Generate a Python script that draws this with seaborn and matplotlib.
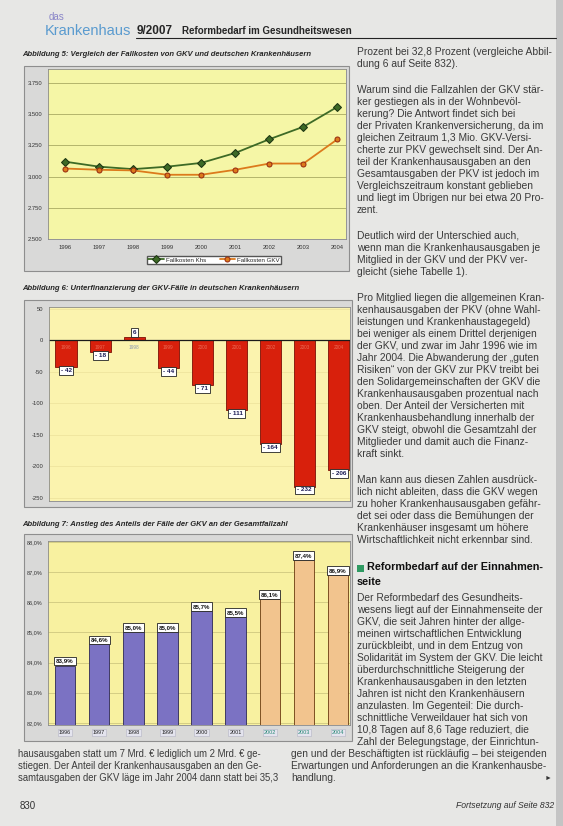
import numpy as np
import pandas as pd
import matplotlib
matplotlib.use("Agg")
import matplotlib.pyplot as plt
import seaborn as sns
from matplotlib import font_manager as fm
from matplotlib.patches import Rectangle
from matplotlib.lines import Line2D

# values
years = ["1996", "1997", "1998", "1999", "2000", "2001", "2002", "2003", "2004"]
fallkosten_khs = [3120, 3080, 3060, 3080, 3110, 3190, 3300, 3400, 3560]
fallkosten_gkv = [3065, 3055, 3050, 3015, 3015, 3055, 3105, 3105, 3300]
unterfinanzierung = [-42, -18, 6, -44, -71, -111, -164, -232, -206]
anteil_gkv = [83.9, 84.6, 85.0, 85.0, 85.7, 85.5, 86.1, 87.4, 86.9]
ticks_kosten = [2500, 2750, 3000, 3250, 3500, 3750]
ticks_unterfin = [50, 0, -50, -100, -150, -200, -250]
ticks_anteil = [82, 83, 84, 85, 86, 87, 88]

W, H = 563, 826

sns.set_theme(style="white")
plt.rcParams["font.family"] = ["Liberation Sans", "DejaVu Sans"]
names = {f.name for f in fm.fontManager.ttflist}
NARROW = "Liberation Sans Narrow" if "Liberation Sans Narrow" in names else None
head_fam = [NARROW, "Liberation Sans", "DejaVu Sans"] if NARROW else ["Liberation Sans", "DejaVu Sans"]
head_scale = 1.2 if NARROW else 1.0

fig = plt.figure(figsize=(W / 100, H / 100), dpi=100, facecolor="#e7e7e5")


def ax_at(x0, y0, x1, y1):
    ax = fig.add_axes([x0 / W, 1 - y1 / H, (x1 - x0) / W, (y1 - y0) / H])
    ax.set_zorder(2)
    return ax


def frame(x0, y0, x1, y1, fc="#d9d9d8", ec="#8e8e8e"):
    fig.patches.append(Rectangle((x0 / W, 1 - y1 / H), (x1 - x0) / W, (y1 - y0) / H,
                                 transform=fig.transFigure, fc=fc, ec=ec, lw=0.8, zorder=-5))


def put(x, y, s, **kw):
    kw.setdefault("va", "center")
    return fig.text(x / W, 1 - y / H, s, **kw)


def hline(x0, x1, y, **kw):
    fig.add_artist(Line2D([x0 / W, x1 / W], [1 - y / H, 1 - y / H], transform=fig.transFigure, **kw))


def de(v, nd=0):
    s = f"{v:,.{nd}f}"
    return s.replace(",", "X").replace(".", ",").replace("X", ".")


# page edge
frame(556, 0, 563, 826, fc="#c4c4c4", ec="none")

# ---- header ----
put(49, 17, "das", fontsize=7, color="#8a86c8")
put(45, 31, "Krankenhaus", fontsize=10.5, color="#5a9bcf")
put(137, 31, "9/2007", fontsize=8.5 * head_scale, fontweight="bold", family=head_fam)
put(182, 31, "Reformbedarf im Gesundheitswesen", fontsize=7 * head_scale, fontweight="bold", family=head_fam)
hline(136, 556, 38, color="#222", lw=0.8)

title_kw = dict(fontsize=5.5 * head_scale, fontweight="bold", style="italic", family=head_fam)

# ---- Abbildung 5 ----
put(22, 54, "Abbildung 5: Vergleich der Fallkosten von GKV und deutschen Krankenhäusern", **title_kw)
frame(24, 66, 349, 271)
ax1 = ax_at(48, 69, 346, 239)
ax1.set_facecolor("#f5f6a6")
df1 = pd.DataFrame({
    "pos": list(range(len(years))) * 2,
    "wert": fallkosten_khs + fallkosten_gkv,
    "reihe": ["Fallkosten Khs"] * len(years) + ["Fallkosten GKV"] * len(years),
})
pal1 = {"Fallkosten Khs": "#3d6a26", "Fallkosten GKV": "#dc7a1c"}
sns.lineplot(data=df1, x="pos", y="wert", hue="reihe", style="reihe", palette=pal1,
             markers={"Fallkosten Khs": "D", "Fallkosten GKV": "o"}, dashes=False,
             markersize=3.6, linewidth=1.3, ax=ax1)
mec = {"#3d6a26": "#1d3512", "#dc7a1c": "#9a2c10"}
hs, ls = ax1.get_legend_handles_labels()
for ln in list(ax1.get_lines()) + list(hs):
    c = matplotlib.colors.to_hex(ln.get_color())
    if c in mec:
        ln.set_markeredgecolor(mec[c])
ax1.legend(hs, ls, ncol=2, loc="center", bbox_to_anchor=(214 / W, 1 - 260 / H),
           bbox_transform=fig.transFigure, fontsize=4.4, frameon=True, fancybox=False,
           edgecolor="#555", facecolor="white", framealpha=1, handlelength=2.6,
           borderpad=0.25, columnspacing=2.2, handletextpad=0.3)
ax1.set_xlim(-0.5, 8.25)
ax1.set_ylim(2500, 3863)
ax1.set_xticks(range(len(years)))
ax1.set_xticklabels(years)
ax1.set_yticks(ticks_kosten)
ax1.set_yticklabels([de(v) for v in ticks_kosten])
ax1.set_xlabel("")
ax1.set_ylabel("")
ax1.yaxis.grid(True, color="#a9aa62", lw=0.6)
ax1.tick_params(labelsize=4.2, colors="#333", pad=4, length=0)
for s in ax1.spines.values():
    s.set_color("#8a8a8a")
    s.set_linewidth(0.6)

# ---- Abbildung 6 ----
put(22, 289, "Abbildung 6: Unterfinanzierung der GKV-Fälle in deutschen Krankenhäusern", **title_kw)
frame(24, 300, 352, 507)
ax2 = ax_at(49, 307, 350, 501)
ax2.set_facecolor("#fbf3ae")
df2 = pd.DataFrame({"jahr": years, "wert": unterfinanzierung})
sns.barplot(data=df2, x="jahr", y="wert", color="#d8200c", saturation=1, width=0.62,
            edgecolor="#7a1005", linewidth=0.6, ax=ax2)
ax2.axhline(0, color="#1a1a1a", lw=0.9, zorder=1)
ax2.set_xlim(-0.5, 8.33)
ax2.set_ylim(-255, 53)
ax2.set_yticks(ticks_unterfin)
ax2.set_yticklabels([str(v) for v in ticks_unterfin])
ax2.set_xticks([])
ax2.set_xlabel("")
ax2.set_ylabel("")
ax2.yaxis.grid(True, color="#efe49e", lw=0.6)
ax2.set_axisbelow(True)
ax2.tick_params(labelsize=4.2, colors="#333", pad=4, length=0)
for s in ax2.spines.values():
    s.set_color("#8a8a8a")
    s.set_linewidth(0.6)
box = dict(boxstyle="square,pad=0.3", fc="white", ec="#222", lw=0.6)
for i, v in enumerate(unterfinanzierung):
    if v < 0:
        ax2.text(i, v - 1.5, f"- {abs(v)}", ha="center", va="top", fontsize=4.6,
                 fontweight="bold", color="#1b1b55", bbox=box, zorder=5)
        ax2.text(i, -12, years[i], ha="center", va="center", fontsize=3.4, color="#ea6a55", zorder=4)
    else:
        ax2.text(i, v + 3, f"{v}", ha="center", va="bottom", fontsize=4.6,
                 fontweight="bold", color="#1b1b55", bbox=box, zorder=5)
        ax2.text(i, -12, years[i], ha="center", va="center", fontsize=3.4, color="#8a98b4", zorder=4)

# ---- Abbildung 7 ----
put(22, 524, "Abbildung 7: Anstieg des Anteils der Fälle der GKV an der Gesamtfallzahl", **title_kw)
frame(24, 534, 352, 741)
ax3 = ax_at(48, 541, 350, 725)
ax3.set_facecolor("#f8f1a0")
bar_cols = ["#7b72c3"] * 6 + ["#f2c48e"] * 3
edge_cols = ["#2d2856"] * 6 + ["#6a3a10"] * 3
df3 = pd.DataFrame({"jahr": years, "anteil": anteil_gkv})
sns.barplot(data=df3, x="jahr", y="anteil", hue="jahr", palette=dict(zip(years, bar_cols)),
            saturation=1, width=0.6, linewidth=0.6, legend=False, ax=ax3)
for p, ec in zip(ax3.patches, edge_cols):
    p.set_edgecolor(ec)
ax3.set_xlim(-0.5, 8.35)
ax3.set_ylim(81.93, 88.03)
ax3.set_yticks(ticks_anteil)
ax3.set_yticklabels([de(v, 1) + "%" for v in ticks_anteil])
ax3.set_xlabel("")
ax3.set_ylabel("")
ax3.yaxis.grid(True, color="#c6bf78", lw=0.5)
ax3.set_axisbelow(True)
ax3.tick_params(labelsize=4.0, colors="#333", pad=4, length=0)
ax3.tick_params(axis="x", pad=3.5)
for lbl, c in zip(ax3.get_xticklabels(), ["#222"] * 6 + ["#2a8a78"] * 3):
    lbl.set_color(c)
    lbl.set_bbox(dict(fc="#e4e4ee", ec="#b4b4c4", lw=0.4, pad=0.8))
for s in ax3.spines.values():
    s.set_color("#8a8a8a")
    s.set_linewidth(0.6)
for i, v in enumerate(anteil_gkv):
    ax3.text(i, v + 0.07, de(v, 1) + "%", ha="center", va="bottom", fontsize=4.4,
             fontweight="bold", color="#111", bbox=box, zorder=5)

# ---- right text column ----
right_col = [
    "Prozent bei 32,8 Prozent (vergleiche Abbil-",
    "dung 6 auf Seite 832).",
    "",
    "Warum sind die Fallzahlen der GKV stär-",
    "ker gestiegen als in der Wohnbevöl-",
    "kerung? Die Antwort findet sich bei",
    "der Privaten Krankenversicherung, da im",
    "gleichen Zeitraum 1,3 Mio. GKV-Versi-",
    "cherte zur PKV gewechselt sind. Der An-",
    "teil der Krankenhausausgaben an den",
    "Gesamtausgaben der PKV ist jedoch im",
    "Vergleichszeitraum konstant geblieben",
    "und liegt im Übrigen nur bei etwa 20 Pro-",
    "zent.",
    "",
    "Deutlich wird der Unterschied auch,",
    "wenn man die Krankenhausausgaben je",
    "Mitglied in der GKV und der PKV ver-",
    "gleicht (siehe Tabelle 1).",
    "",
    "Pro Mitglied liegen die allgemeinen Kran-",
    "kenhausausgaben der PKV (ohne Wahl-",
    "leistungen und Krankenhaustagegeld)",
    "bei weniger als einem Drittel derjenigen",
    "der GKV, und zwar im Jahr 1996 wie im",
    "Jahr 2004. Die Abwanderung der „guten",
    "Risiken“ von der GKV zur PKV treibt bei",
    "den Solidargemeinschaften der GKV die",
    "Krankenhausausgaben prozentual nach",
    "oben. Der Anteil der Versicherten mit",
    "Krankenhausbehandlung innerhalb der",
    "GKV steigt, obwohl die Gesamtzahl der",
    "Mitglieder und damit auch die Finanz-",
    "kraft sinkt.",
    "",
    "Man kann aus diesen Zahlen ausdrück-",
    "lich nicht ableiten, dass die GKV wegen",
    "zu hoher Krankenhausausgaben gefähr-",
    "det sei oder dass die Bemühungen der",
    "Krankenhäuser insgesamt um höhere",
    "Wirtschaftlichkeit nicht erkennbar sind.",
]
body = dict(fontsize=7.4, color="#3a3a3a")
y = 52
for line in right_col:
    if line == "":
        y += 14
        continue
    put(357, y, line, **body)
    y += 12

# section heading
fig.patches.append(Rectangle((357 / W, 1 - 572 / H), 7 / W, 7 / H, transform=fig.transFigure,
                             fc="#2f9a62", ec="none"))
put(367, 567, "Reformbedarf auf der Einnahmen-", fontsize=7.8 * head_scale, fontweight="bold",
    family=head_fam, color="#111")
put(357, 582, "seite", fontsize=7.8 * head_scale, fontweight="bold", family=head_fam, color="#111")

right_col2 = [
    "Der Reformbedarf des Gesundheits-",
    "wesens liegt auf der Einnahmenseite der",
    "GKV, die seit Jahren hinter der allge-",
    "meinen wirtschaftlichen Entwicklung",
    "zurückbleibt, und in dem Entzug von",
    "Solidarität im System der GKV. Die leicht",
    "überdurchschnittliche Steigerung der",
    "Krankenhausausgaben in den letzten",
    "Jahren ist nicht den Krankenhäusern",
    "anzulasten. Im Gegenteil: Die durch-",
    "schnittliche Verweildauer hat sich von",
    "10,8 Tagen auf 8,6 Tage reduziert, die",
    "Zahl der Belegungstage, der Einrichtun-",
]
for k, line in enumerate(right_col2):
    put(357, 598 + 12 * k, line, **body)

# text under Abbildung 7
left_bottom = [
    "hausausgaben statt um 7 Mrd. € lediglich um 2 Mrd. € ge-",
    "stiegen. Der Anteil der Krankenhausausgaben an den Ge-",
    "samtausgaben der GKV läge im Jahr 2004 dann statt bei 35,3",
]
right_bottom = [
    "gen und der Beschäftigten ist rückläufig – bei steigenden",
    "Erwartungen und Anforderungen an die Krankenhausbe-",
    "handlung.",
]
for k, line in enumerate(left_bottom):
    put(18, 754 + 12 * k, line, fontsize=6.85, color="#3a3a3a")
for k, line in enumerate(right_bottom):
    put(291, 754 + 12 * k, line, fontsize=7.3, color="#3a3a3a")
put(552, 778, "►", fontsize=5, color="#333", ha="right")

# footer
put(20, 806, "830", fontsize=7, color="#333")
put(554, 806, "Fortsetzung auf Seite 832", fontsize=6.2, style="italic", color="#333", ha="right")

fig.savefig("out.png", dpi=100, facecolor=fig.get_facecolor())
